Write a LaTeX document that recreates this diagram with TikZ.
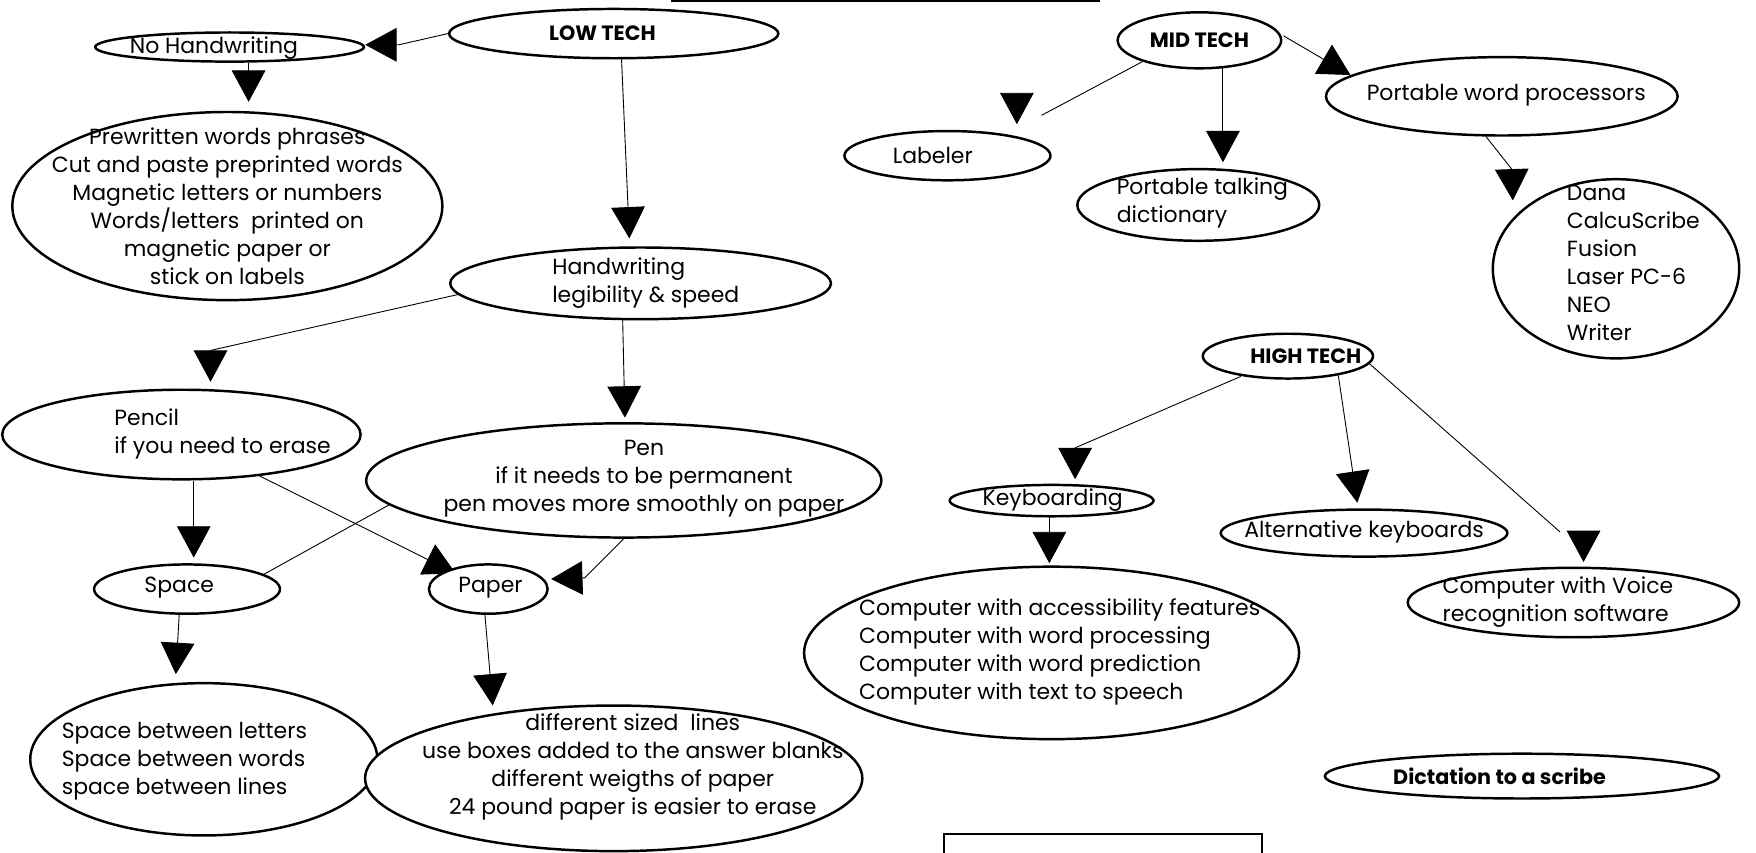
\documentclass[tikz,border=0pt]{standalone}
\usepackage{fontspec}
\setmainfont{Poppins}
\usetikzlibrary{shapes.geometric,arrows.meta,calc,backgrounds}
\newcommand\mytxt{\fontsize{19.6}{25}\selectfont}
\newcommand\mybold{\fontsize{18.5}{22}\selectfont\bfseries}
\tikzset{
  ell/.style={draw, ellipse, line width=2.2pt, inner sep=0pt, fill=white},
  txt/.style={inner sep=0pt, font=\mytxt},
  btxt/.style={inner sep=0pt, font=\mybold},
  arr/.style={-{Triangle[length=28pt,width=30pt]}, line width=0.8pt},
  plain/.style={line width=0.8pt}
}
\begin{document}
\begin{tikzpicture}[x=1pt,y=-1pt]
\useasboundingbox (0,0) rectangle (1568,761);
% top line and bottom box
\coordinate (tlA) at (599,1);
\coordinate (tlB) at (982,1);
\draw[line width=1.5pt] (tlA) -- (tlB);
\coordinate (bxA) at (843,770);
\coordinate (bxB) at (1127,745);
\draw[line width=2pt] (bxA) rectangle (bxB);

% ellipses
\node[ell, minimum width=294pt, minimum height=44pt] (low) at (548,30) {};
\node[ell, minimum width=240pt, minimum height=26pt] (nohand) at (205,42) {};
\node[ell, minimum width=384pt, minimum height=168pt] (prew) at (203,184) {};
\node[ell, minimum width=340pt, minimum height=64pt] (hand) at (572,253) {};
\node[ell, minimum width=320pt, minimum height=80pt] (pencil) at (162,388) {};
\node[ell, minimum width=460pt, minimum height=102pt] (pen) at (557,429) {};
\node[ell, minimum width=166pt, minimum height=44pt] (space) at (167,526) {};
\node[ell, minimum width=106pt, minimum height=44pt] (paper) at (436,526) {};
\node[ell, minimum width=310pt, minimum height=136pt] (spb) at (182,678) {};
\node[ell, minimum width=444pt, minimum height=130pt] (diff) at (548,695) {};
\node[ell, minimum width=146pt, minimum height=50pt] (mid) at (1071,36) {};
\node[ell, minimum width=184pt, minimum height=44pt] (lab) at (846,139) {};
\node[ell, minimum width=216pt, minimum height=64pt] (talk) at (1070,183) {};
\node[ell, minimum width=314pt, minimum height=70pt] (pwp) at (1341,86) {};
\node[ell, minimum width=220pt, minimum height=160pt] (dana) at (1443,240) {};
\node[ell, minimum width=152pt, minimum height=40pt] (high) at (1150,318) {};
\node[ell, minimum width=182pt, minimum height=28pt] (kb) at (939,447) {};
\node[ell, minimum width=442pt, minimum height=154pt] (comp) at (939,583) {};
\node[ell, minimum width=256pt, minimum height=42pt] (alt) at (1218,476) {};
\node[ell, minimum width=296pt, minimum height=62pt] (voice) at (1405,538) {};
\node[ell, minimum width=352pt, minimum height=40pt] (dict) at (1359,693) {};

% texts
\node[btxt] (lowT) at (538,30) {LOW TECH};
\node[txt] (nohandT) at (191,43) {No Handwriting};
\node[txt, align=center] (prewT) at (203,184.5) {Prewritten words phrases\\Cut and paste preprinted words\\Magnetic letters or numbers\\Words/letters\ \ printed on\\magnetic paper or\\stick on labels};
\node[txt, align=left, anchor=west] (handT) at (493,252.5) {Handwriting\\legibility \& speed};
\node[txt, align=left, anchor=west] (pencilT) at (102,387.5) {Pencil\\if you need to erase};
\node[txt, align=center] (penT) at (575,427) {Pen\\if it needs to be permanent\\pen moves more smoothly on paper};
\node[txt] (spaceT) at (160,525) {Space};
\node[txt] (paperT) at (438,525) {Paper};
\node[txt, align=left, anchor=west] (spbT) at (55,680) {Space between letters\\Space between words\\space between lines};
\node[txt, align=center] (diffT) at (565,684.5) {different sized\ \ lines\\use boxes added to the answer blanks\\different weigths of paper\\24 pound paper is easier to erase};
\node[btxt] (midT) at (1071,36) {MID TECH};
\node[txt, anchor=west] (labT) at (797,139) {Labeler};
\node[txt, align=left, anchor=west] (talkT) at (997,181.5) {Portable talking\\dictionary};
\node[txt] (pwpT) at (1345,85) {Portable word processors};
\node[txt, align=left, anchor=west] (danaT) at (1399,234.5) {Dana\\CalcuScribe\\Fusion\\Laser PC-6\\NEO\\Writer};
\node[btxt] (highT) at (1166,318) {HIGH TECH};
\node[txt] (kbT) at (940,447) {Keyboarding};
\node[txt, align=left, anchor=west] (compT) at (767,582.5) {Computer with accessibility features\\Computer with word processing\\Computer with word prediction\\Computer with text to speech};
\node[txt] (altT) at (1218,475) {Alternative keyboards};
\node[txt, align=left, anchor=west] (voiceT) at (1288,537.5) {Computer with Voice\\recognition software};
\node[btxt] (dictT) at (1339,693) {Dictation to a scribe};

% connectors
\coordinate (lbA) at (930,103);
\coordinate (lbB) at (908,85);
\coordinate (vcA) at (1393,475);
\coordinate (vcB) at (1414,474);
\begin{pgfonlayer}{background}
\draw[arr] (low.west) -- ($(nohand.east)+(30,-2)$) -- ($(nohand.east)+(0,-2)$);
\draw[arr] ($(nohand.south)+(17,0)$) -- ($(prew.north)+(19,-8)$);
\draw[arr] ($(low.south)+(7,0)$) -- ($(hand.north)+(-10,-7)$);
\draw[arr] ($(hand.west)+(8,10)$) -- ($(pencil.north)+(26,-34)$) -- ($(pencil.north)+(26,-6)$);
\draw[arr] ($(hand.south)+(-16,0)$) -- ($(pen.north)+(1,-4)$);
\draw[arr] ($(pencil.south)+(11,0)$) -- ($(space.north)+(6,-5)$);
\draw[arr] ($(pencil.south)+(70,-4)$) -- ($(paper.west)+(25,-14)$);
\draw[plain] ($(pen.west)+(23,21)$) -- ($(space.east)+(-23,-9)$);
\draw[arr] (pen.south) -- ($(paper.east)+(32,-10)$) -- ($(paper.east)+(2,-9)$);
\draw[arr] ($(space.south)+(-7,0)$) -- ($(spb.north)+(-25,-7)$);
\draw[arr] ($(paper.south)+(-3,0)$) -- ($(diff.north)+(-108,1)$);
\draw[plain] ($(mid.south)+(-51,-7)$) -- (lbA);
\draw[arr] (lbB) -- ($(lab.north)+(62,-5)$);
\draw[arr] ($(mid.south)+(21,-4)$) -- ($(talk.north)+(22,-5)$);
\draw[arr] ($(mid.east)+(1,-4)$) -- ($(pwp.west)+(23,-19)$);
\draw[arr] ($(pwp.south)+(-14,0)$) -- ($(dana.west)+(18,-89)$) -- ($(dana.west)+(19,-61)$);
\draw[arr] ($(high.south)+(-42,-3)$) -- ($(kb.north)+(21,-32)$) -- ($(kb.north)+(21,-4)$);
\draw[arr] ($(high.south)+(45,-4)$) -- ($(alt.north)+(-6,-5)$);
\draw[plain] ($(high.east)+(-4,7)$) -- (vcA);
\draw[arr] (vcB) -- ($(voice.north)+(9,-4)$);
\draw[arr] ($(kb.south)+(-2,0)$) -- ($(comp.north)+(-2,-2)$);
\end{pgfonlayer}
\end{tikzpicture}
\end{document}
